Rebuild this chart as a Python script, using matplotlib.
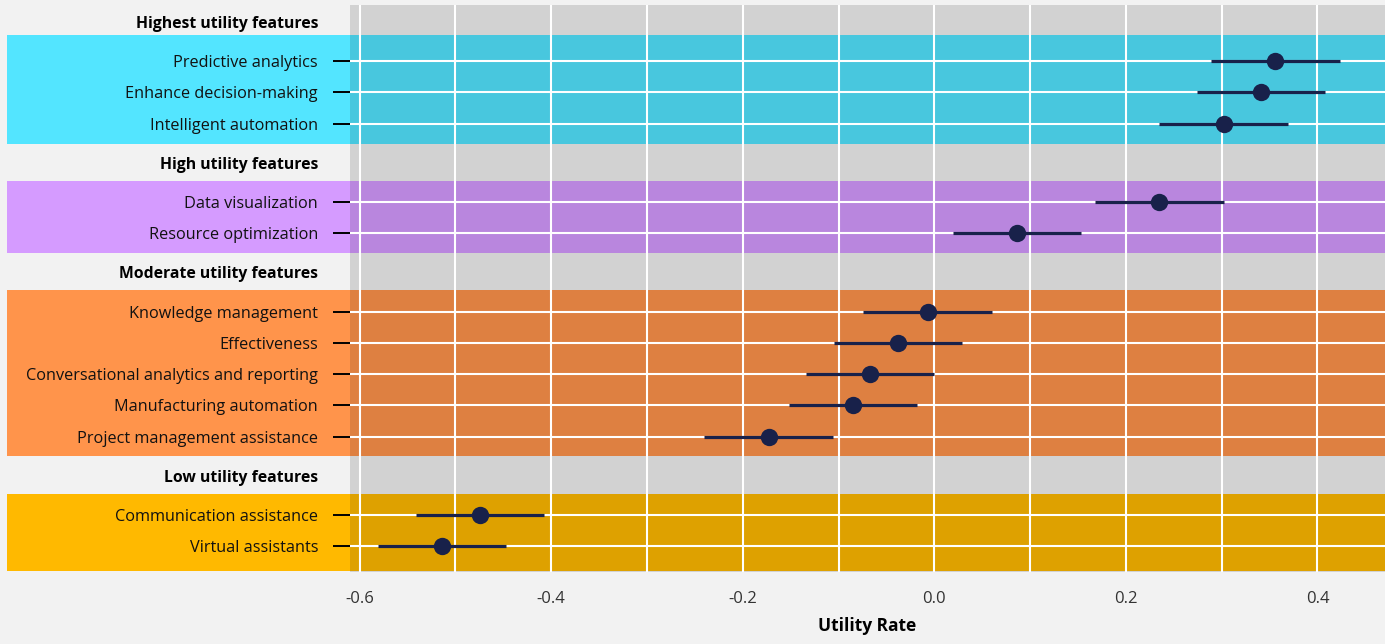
import matplotlib
matplotlib.use("Agg")
import matplotlib.pyplot as plt
import matplotlib.transforms as mtransforms
from matplotlib.patches import Rectangle

# ----------------------------------------------------------------------------
# data
# ----------------------------------------------------------------------------
groups = ["Highest utility features", "High utility features",
          "Moderate utility features", "Low utility features"]
group_colors = ["#53E5FF", "#D59BFF", "#FF944B", "#FFB900"]

features = [
    ["Predictive analytics", "Enhance decision-making", "Intelligent automation"],
    ["Data visualization", "Resource optimization"],
    ["Knowledge management", "Effectiveness", "Conversational analytics and reporting",
     "Manufacturing automation", "Project management assistance"],
    ["Communication assistance", "Virtual assistants"],
]
utility = [
    [0.356, 0.341, 0.302],
    [0.235, 0.086],
    [-0.007, -0.038, -0.067, -0.085, -0.173],
    [-0.474, -0.514],
]
lower = [
    [0.289, 0.274, 0.235],
    [0.168, 0.019],
    [-0.074, -0.105, -0.134, -0.152, -0.240],
    [-0.541, -0.581],
]
upper = [
    [0.423, 0.408, 0.369],
    [0.302, 0.153],
    [0.060, 0.029, 0.000, -0.018, -0.106],
    [-0.407, -0.447],
]
xticks = [-0.6, -0.4, -0.2, 0.0, 0.2, 0.4]

# ----------------------------------------------------------------------------
# layout of rows: header, then items, a bit of gap between groups
# ----------------------------------------------------------------------------
gap = 1.25
pos = 0.0
header_pos, item_pos = [], []
for names in features:
    header_pos.append(pos)
    rows = []
    pos += gap
    for _ in names:
        rows.append(pos)
        pos += 1
    pos += gap - 1
    item_pos.append(rows)

plt.rcParams['font.family'] = ['Open Sans', 'Noto Sans', 'DejaVu Sans']

fig = plt.figure(figsize=(13.85, 6.44), dpi=100, facecolor="#F2F2F2")
ax = fig.add_axes([350 / 1385, 1 - 572 / 644, 1 - 350 / 1385, 567 / 644])
ax.set_facecolor("none")

ax.set_xlim(-0.61, 0.4705)
ax.set_ylim(17.57, -0.543)

# coloured bands across the whole figure width
band_trans = mtransforms.blended_transform_factory(fig.transFigure, ax.transData)
pad_top = [0.85, 0.66, 0.7, 0.68]
pad_bot = [0.64, 0.64, 0.62, 0.78]
for rows, col, pt, pb in zip(item_pos, group_colors, pad_top, pad_bot):
    y0 = rows[0] - pt
    h = rows[-1] - rows[0] + pt + pb
    r = Rectangle((7 / 1385, y0), 1 - 7 / 1385, h, transform=band_trans,
                  facecolor=col, edgecolor="none", clip_on=False, zorder=0)
    ax.add_patch(r)

# darker overlay on the plotting area
ax.add_patch(Rectangle((0, 0), 1, 1, transform=ax.transAxes, facecolor="black",
                       alpha=0.13, edgecolor="none", zorder=0.5))

# grid
for v in [-0.6, -0.5, -0.4, -0.3, -0.2, -0.1, 0.0, 0.1, 0.2, 0.3, 0.4]:
    ax.axvline(v, color="white", lw=1.5, zorder=1)
for rows in item_pos:
    for y in rows:
        ax.axhline(y, color="white", lw=1.5, zorder=1)

# error bars + points
for rows, u, lo, hi in zip(item_pos, utility, lower, upper):
    ax.hlines(rows, lo, hi, color="#18214A", lw=2.3, zorder=3)
    ax.plot(u, rows, "o", ms=12.5, color="#18214A", mec="none", zorder=4)

# y labels: headers in bold without tick
all_pos, all_lab, is_header = [], [], []
for g, hp, names, rows in zip(groups, header_pos, features, item_pos):
    all_pos.append(hp)
    all_lab.append(g)
    is_header.append(True)
    all_pos += rows
    all_lab += names
    is_header += [False] * len(names)

ax.set_yticks(all_pos)
ax.set_yticklabels(all_lab, fontsize=11.7, color="#111111")
ax.tick_params(axis="y", length=12.5, width=1.4, color="black", pad=10.5)
for t, lab, h in zip(ax.yaxis.get_major_ticks(), ax.get_yticklabels(), is_header):
    if h:
        t.tick1line.set_visible(False)
        lab.set_fontweight("bold")
        lab.set_fontsize(11.3)
        lab.set_color("black")

ax.set_xticks(xticks)
ax.set_xticklabels(["%.1f" % v for v in xticks], fontsize=12, color="#333333")
ax.tick_params(axis="x", length=0, pad=14)
ax.set_xlabel("Utility Rate", fontsize=12.5, fontweight="bold", labelpad=7)

for s in ax.spines.values():
    s.set_visible(False)

fig.savefig("out.png", dpi=100, facecolor=fig.get_facecolor())
